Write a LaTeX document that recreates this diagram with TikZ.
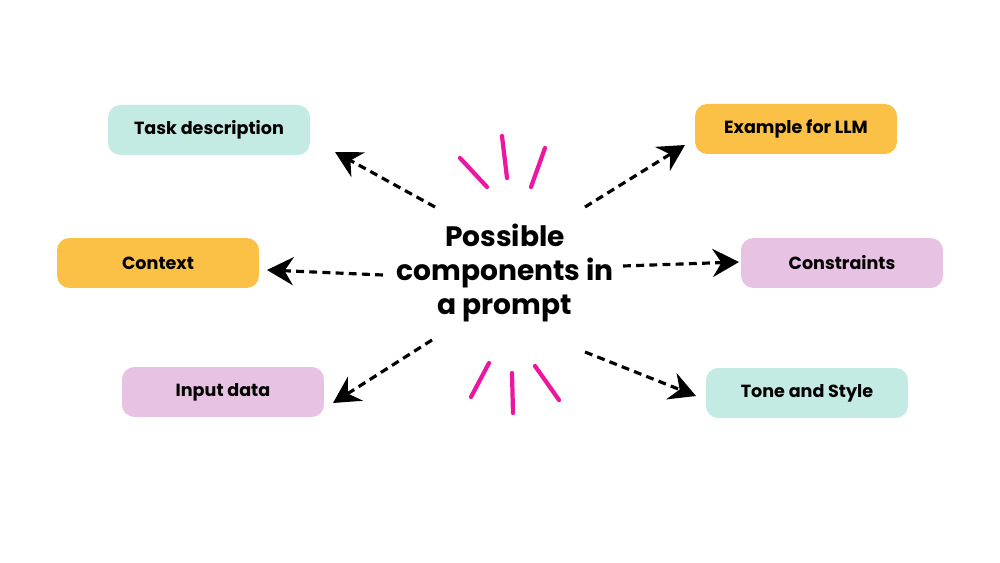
\documentclass[tikz,border=0pt]{standalone}
\usepackage{fontspec}
\setmainfont{Poppins}
\usetikzlibrary{arrows.meta}
\definecolor{teal}{HTML}{C3EBE3}
\definecolor{gold}{HTML}{FBC046}
\definecolor{lilac}{HTML}{E7C2E3}
\definecolor{magenta}{HTML}{EC169F}

\begin{document}
\begin{tikzpicture}[x=0.02cm, y=-0.02cm,
    part/.style={rounded corners=7pt, minimum width=4.04cm, minimum height=1cm, font=\bfseries\fontsize{10}{12}\selectfont},
    link/.style={-{Stealth[length=15pt,width=16pt,inset=5pt]}, line width=1.8pt, dash pattern=on 4.5pt off 3pt},
    spark/.style={draw=magenta, line width=2.4pt, line cap=round}]
   \useasboundingbox[fill=white] (0,0) rectangle (1000,563);
   % centre title
   \node[align=center, font=\bfseries\fontsize{16}{19.5}\selectfont] (title) at (505,273) {Possible\\components in\\a prompt};
   % the six components
   \node[part, fill=teal]  (task)    at (209,130) {Task description};
   \node[part, fill=gold]  (example) at (796,129) {Example for LLM};
   \node[part, fill=gold]  (context) at (158,263) {Context};
   \node[part, fill=lilac] (constr)  at (842,263) {Constraints};
   \node[part, fill=lilac] (input)   at (223,392) {Input data};
   \node[part, fill=teal]  (tone)    at (807,393) {Tone and Style};
   % arrow ends
   \coordinate (s1) at (435,207); \coordinate (e1) at (335,152);
   \coordinate (s2) at (585,207); \coordinate (e2) at (685,145);
   \coordinate (s3) at (383,275); \coordinate (e3) at (267,270);
   \coordinate (s4) at (623,266); \coordinate (e4) at (739,262);
   \coordinate (s5) at (432,340); \coordinate (e5) at (333,403);
   \coordinate (s6) at (585,352); \coordinate (e6) at (696,396);
   \foreach \i in {1,...,6}
     \draw[link] (s\i) -- (e\i);
   % sparks
   \draw[spark] (460,158) -- (487,187);
   \draw[spark] (502,136) -- (507,178);
   \draw[spark] (545,148) -- (531,187);
   \draw[spark] (489,363) -- (471,397);
   \draw[spark] (512,373) -- (513,413);
   \draw[spark] (535,366) -- (559,400);
\end{tikzpicture}
\end{document}
